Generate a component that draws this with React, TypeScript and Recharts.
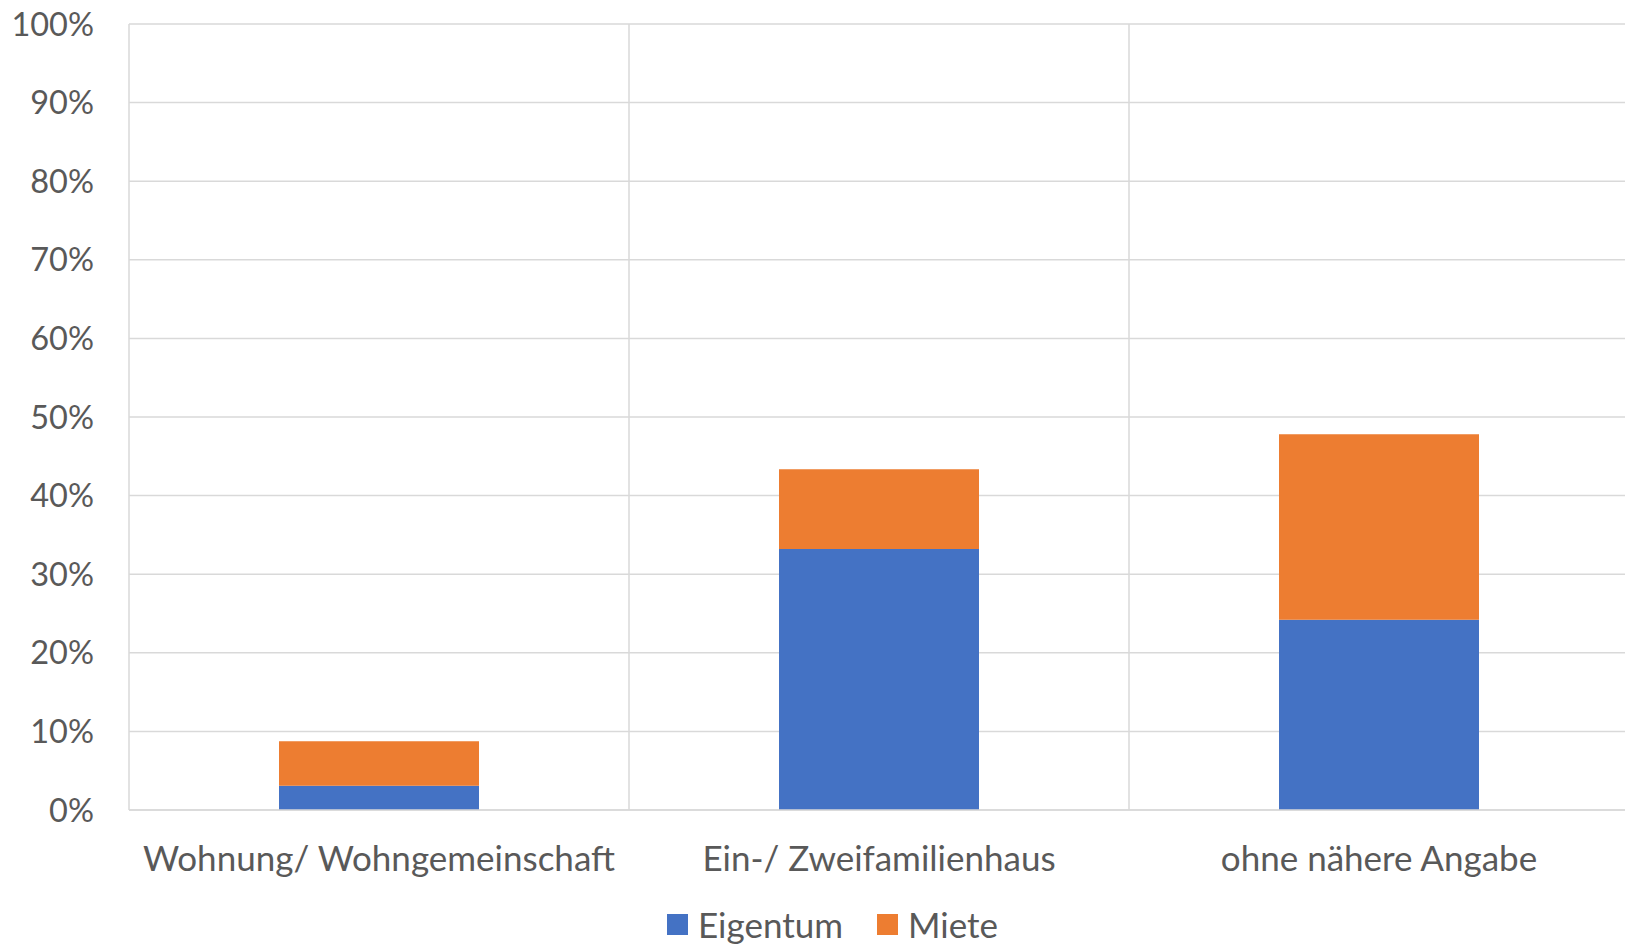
import React from 'react';
import { BarChart, Bar, XAxis, YAxis, CartesianGrid, Legend } from 'recharts';

// Housing type categories and shares (percent)
const categories = ['Wohnung/ Wohngemeinschaft', 'Ein-/ Zweifamilienhaus', 'ohne nähere Angabe'];
const eigentum = [3.1, 33.2, 24.2];
const miete = [5.65, 10.15, 23.6];
const yTicks = [0, 10, 20, 30, 40, 50, 60, 70, 80, 90, 100];

const data = categories.map((name, i) => ({
  name,
  Eigentum: eigentum[i],
  Miete: miete[i],
}));

const FONT = 'Lato, "Open Sans", sans-serif';
const TEXT = '#595959';
const GRID = '#d9d9d9';

const renderLegend = (props: any) => {
  const { payload } = props;
  return (
    <div style={{ display: 'flex', justifyContent: 'center', alignItems: 'center', paddingLeft: 36, fontFamily: FONT, fontSize: 35, color: TEXT }}>
      {payload.map((entry: any) => (
        <div key={entry.value} style={{ display: 'flex', alignItems: 'center', margin: '0 17px' }}>
          <span style={{ display: 'inline-block', width: 21, height: 21, background: entry.color, marginRight: 10 }} />
          <span>{entry.value}</span>
        </div>
      ))}
    </div>
  );
};

const App = () => {
  return (
    <div style={{ position: 'absolute', left: 0, top: 0, width: 1625, height: 945, overflow: 'hidden', background: '#fff' }}>
      <BarChart
        width={1629}
        height={945}
        data={data}
        margin={{ top: 24, right: 0, bottom: 0, left: 0 }}
        barCategoryGap="30%"
      >
        <CartesianGrid
          stroke={GRID}
          strokeWidth={1.5}
          verticalCoordinatesGenerator={({ offset }: any) =>
            [0, 1, 2, 3].map((i) => offset.left + (i * offset.width) / categories.length)
          }
        />
        <XAxis
          dataKey="name"
          axisLine={{ stroke: GRID, strokeWidth: 1.5 }}
          tickLine={false}
          tickSize={0}
          tickMargin={36}
          height={93}
          interval={0}
          tick={{ fill: TEXT, fontSize: 35, fontFamily: FONT }}
        />
        <YAxis
          domain={[0, 100]}
          ticks={yTicks}
          width={129}
          axisLine={false}
          tickLine={false}
          tickSize={0}
          tickMargin={35}
          tickFormatter={(v) => `${v}%`}
          tick={{ fill: TEXT, fontSize: 32.5, fontFamily: FONT }}
        />
        <Legend verticalAlign="bottom" content={renderLegend} />
        <Bar dataKey="Eigentum" stackId="a" fill="#4472C4" isAnimationActive={false} />
        <Bar dataKey="Miete" stackId="a" fill="#ED7D31" isAnimationActive={false} />
      </BarChart>
    </div>
  );
};

export default App;
